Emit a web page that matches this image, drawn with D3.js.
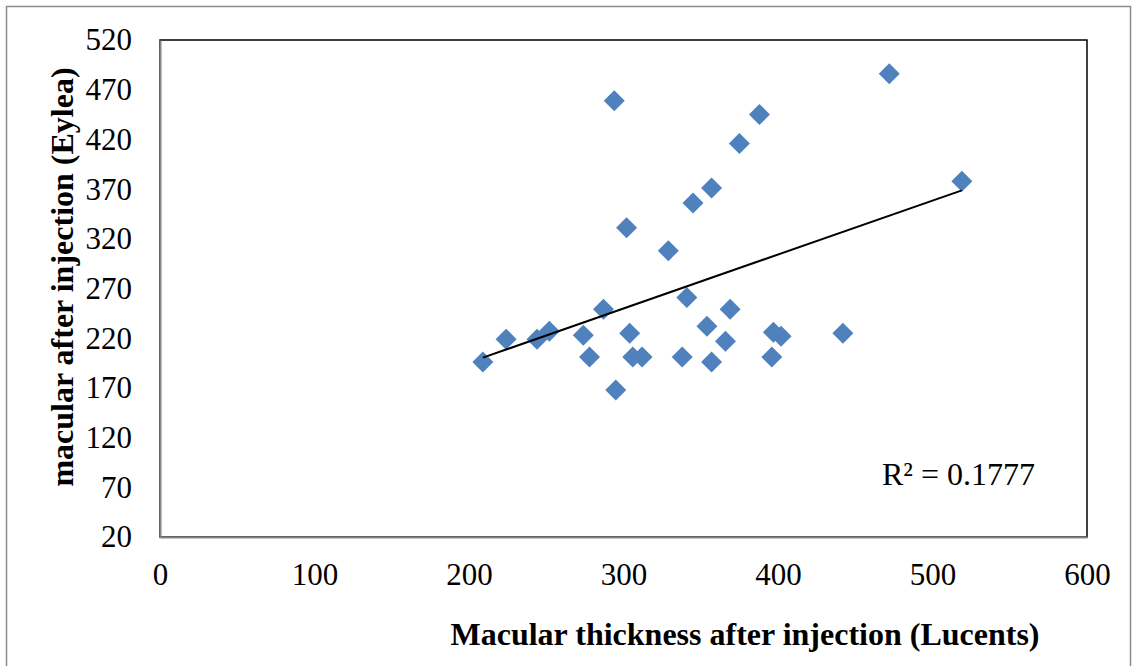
<!DOCTYPE html>
<html>
<head>
<meta charset="utf-8">
<script src="https://cdn.jsdelivr.net/npm/d3@7"></script>
<style>
  body { margin: 0; background: #fff; }
  text { font-family: "Liberation Serif", "Times New Roman", serif; }
</style>
</head>
<body>
<svg id="chart" width="1133" height="666"></svg>
<script>
// Lucentis thickness (x) vs Eylea thickness (y)
const lucents = [209, 224, 244, 252, 274, 278, 287, 295, 294, 302, 304, 306, 312, 329, 338,
  341, 345, 354, 357, 357, 366, 369, 375, 388, 396, 397, 402, 442, 472, 519];
const eylea = [196, 219, 219, 227, 223, 201, 249, 168, 459, 331, 225, 201, 201, 308, 201,
  261, 356, 232, 371, 196, 217, 249, 416, 445, 201, 226, 222, 225, 486, 378];
const xTicks = [0, 100, 200, 300, 400, 500, 600];
const yTicks = [20, 70, 120, 170, 220, 270, 320, 370, 420, 470, 520];
const r2Label = 'R² = 0.1777';

const svg = d3.select('#chart');
const margin = { left: 160, top: 40, right: 1087, bottom: 537 };

// outer frame
svg.append('rect')
  .attr('x', 6.5).attr('y', 6.5)
  .attr('width', 1124).attr('height', 670)
  .attr('fill', 'none').attr('stroke', '#8c8c8c').attr('stroke-width', 1.5);

const x = d3.scaleLinear().domain([0, 600]).range([margin.left, margin.right]);
const y = d3.scaleLinear().domain([20, 520]).range([margin.bottom, margin.top]);

// plot area border
svg.append('rect')
  .attr('x', margin.left).attr('y', margin.top)
  .attr('width', margin.right - margin.left).attr('height', margin.bottom - margin.top)
  .attr('fill', 'none').attr('stroke', '#000').attr('stroke-width', 1.5);

// axes (gray, no ticks)
const xAxis = svg.append('g')
  .attr('transform', `translate(0,${margin.bottom})`)
  .call(d3.axisBottom(x).tickValues(xTicks).tickSize(0).tickPadding(26));
const yAxis = svg.append('g')
  .attr('transform', `translate(${margin.left},0)`)
  .call(d3.axisLeft(y).tickValues(yTicks).tickSize(0).tickPadding(28));

[xAxis, yAxis].forEach(a => {
  a.select('.domain').attr('stroke', '#868686').attr('stroke-width', 2);
  a.selectAll('text')
    .attr('font-family', '"Liberation Serif", serif')
    .attr('font-size', 31)
    .attr('fill', '#000');
});

// points
const pts = lucents.map((v, i) => ({ x: v, y: eylea[i] }));

// least squares trend line
const mx = d3.mean(pts, d => d.x);
const my = d3.mean(pts, d => d.y);
const slope = d3.sum(pts, d => (d.x - mx) * (d.y - my)) / d3.sum(pts, d => (d.x - mx) ** 2);
const icpt = my - slope * mx;
const [x0, x1] = d3.extent(pts, d => d.x);

svg.append('g')
  .selectAll('path')
  .data(pts)
  .enter()
  .append('path')
  .attr('d', 'M0,-10.5L10.5,0L0,10.5L-10.5,0Z')
  .attr('transform', d => `translate(${x(d.x)},${y(d.y)})`)
  .attr('fill', '#4f81bd');

svg.append('line')
  .attr('x1', x(x0)).attr('y1', y(icpt + slope * x0))
  .attr('x2', x(x1)).attr('y2', y(icpt + slope * x1))
  .attr('stroke', '#000').attr('stroke-width', 2);

svg.append('text')
  .attr('x', 882).attr('y', 485)
  .attr('font-size', 32)
  .text(r2Label);

// axis titles
svg.append('text')
  .attr('x', 745).attr('y', 645)
  .attr('text-anchor', 'middle')
  .attr('font-size', 32).attr('font-weight', 'bold')
  .text('Macular thickness after injection (Lucents)');

svg.append('text')
  .attr('transform', 'translate(73,277) rotate(-90)')
  .attr('text-anchor', 'middle')
  .attr('font-size', 32).attr('font-weight', 'bold')
  .text('macular after injection (Eylea)');
</script>
</body>
</html>
